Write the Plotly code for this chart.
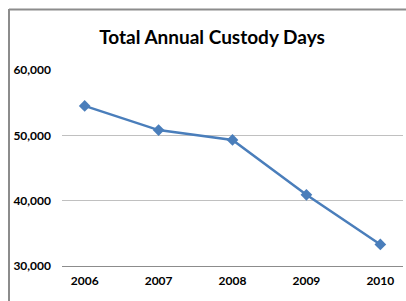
import plotly.graph_objects as go

years = ["2006", "2007", "2008", "2009", "2010"]
custody_days = [54500, 50800, 49300, 40900, 33300]
y_ticks = [30000, 40000, 50000, 60000]
y_tick_labels = ["30,000", "40,000", "50,000", "60,000"]
title_text = "Total Annual Custody Days"

W, H = 406, 301
ml, mr, mt, mb = 62, 3, 70, 35
pw, ph = W - ml - mr, H - mt - mb

def px_x(x):
    return (x - ml) / pw

def px_y(y):
    return (H - mb - y) / ph

fig = go.Figure()
fig.add_trace(go.Scatter(
    x=years, y=custody_days, mode="lines+markers",
    line=dict(color="#4a7ebb", width=2.5),
    marker=dict(symbol="diamond", size=9, color="#4a7ebb"),
    hoverinfo="skip",
))

frame_color = "#8c8c8c"
fig.add_shape(type="line", xref="paper", yref="paper",
              x0=px_x(9), x1=px_x(9), y0=px_y(9), y1=px_y(305),
              line=dict(color=frame_color, width=2))
fig.add_shape(type="line", xref="paper", yref="paper",
              x0=px_x(9), x1=px_x(410), y0=px_y(9.5), y1=px_y(9.5),
              line=dict(color=frame_color, width=2))

fig.update_layout(
    width=W, height=H,
    margin=dict(l=ml, r=mr, t=mt, b=mb, pad=0),
    paper_bgcolor="white", plot_bgcolor="white",
    showlegend=False,
    font=dict(family="Lato", color="black"),
    title=dict(text="<b>" + title_text + "</b>", x=212 / W, xanchor="center",
               y=1 - 37 / H, yanchor="middle",
               font=dict(family="Lato", size=19, color="black")),
    xaxis=dict(type="category", showgrid=False, showline=True,
               linecolor="#8c8c8c", linewidth=1, ticks="", zeroline=False,
               tickfont=dict(family="Lato", size=12, color="black", weight="bold"),
               ticklabelstandoff=4),
    yaxis=dict(range=[30000, 60000], tickvals=y_ticks, ticktext=y_tick_labels,
               showgrid=True, gridcolor="#c0c0c0", gridwidth=1,
               showline=False, zeroline=False, ticks="",
               tickfont=dict(family="Lato", size=12, color="black", weight="bold"),
               ticklabelstandoff=10),
)

fig.write_html("out.html", config={"displayModeBar": False},
               post_script="document.body.style.margin='0';")
